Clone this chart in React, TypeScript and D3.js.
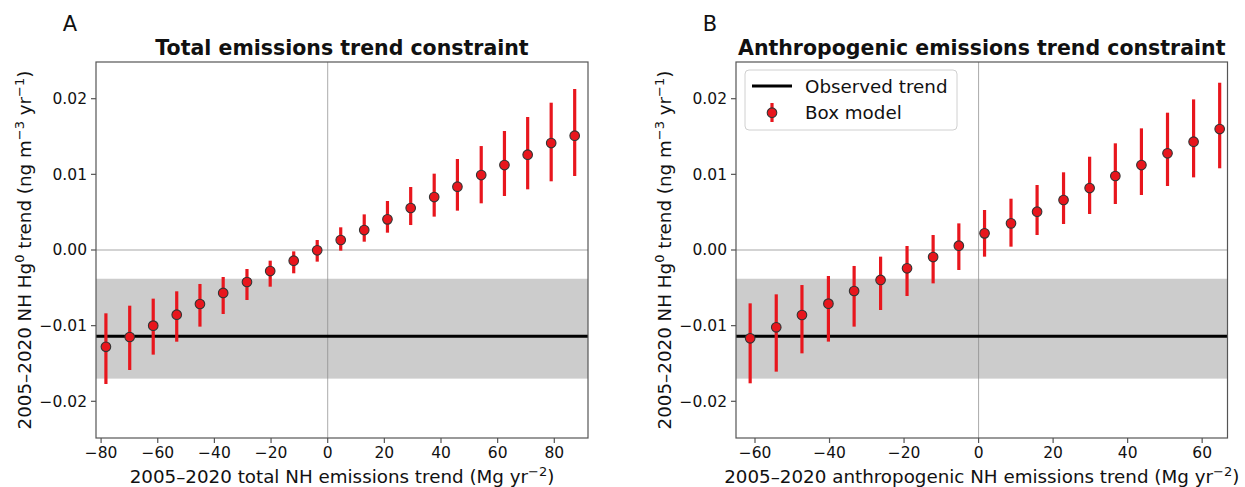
import React from "react";
import * as d3 from "d3";

// 패널 A: 전체 배출량 추세
const totalX = [-78.3, -69.9, -61.6, -53.3, -45.1, -36.9, -28.5, -20.3, -12.0, -3.7, 4.6, 12.9, 21.1, 29.3, 37.6, 45.8, 54.2, 62.4, 70.6, 78.9, 87.2];
const totalY = [-0.0128, -0.0115, -0.01, -0.00855, -0.00714, -0.00568, -0.00423, -0.00278, -0.00141, -0.00004, 0.00132, 0.00264, 0.00405, 0.00555, 0.007, 0.00837, 0.00991, 0.01123, 0.0126, 0.01414, 0.01511];
const totalHi = [-0.00837, -0.00736, -0.00643, -0.00546, -0.00449, -0.00357, -0.00251, -0.00141, -0.00018, 0.00132, 0.003, 0.00471, 0.00648, 0.00833, 0.01009, 0.01203, 0.01374, 0.01573, 0.01758, 0.01947, 0.02128];
const totalLo = [-0.01771, -0.01586, -0.01383, -0.01212, -0.01013, -0.00846, -0.00661, -0.00485, -0.00308, -0.00154, -0.00009, 0.0011, 0.00229, 0.0033, 0.00441, 0.0052, 0.00617, 0.00714, 0.00802, 0.00908, 0.00978];

// 패널 B: 인위적 배출량 추세
const anthroX = [-61.3, -54.3, -47.4, -40.3, -33.4, -26.3, -19.2, -12.2, -5.3, 1.6, 8.7, 15.7, 22.8, 29.8, 36.7, 43.7, 50.7, 57.7, 64.7];
const anthroY = [-0.01167, -0.01022, -0.00859, -0.00709, -0.00542, -0.00396, -0.00242, -0.00093, 0.00057, 0.0022, 0.00352, 0.00506, 0.00661, 0.00819, 0.00978, 0.01123, 0.01278, 0.01432, 0.01599];
const anthroHi = [-0.00705, -0.00586, -0.00463, -0.00344, -0.00211, -0.00088, 0.00053, 0.00198, 0.00352, 0.00529, 0.00678, 0.00859, 0.01027, 0.01233, 0.0141, 0.01608, 0.01815, 0.01991, 0.02211];
const anthroLo = [-0.01762, -0.01608, -0.01366, -0.01211, -0.01013, -0.00793, -0.00608, -0.00441, -0.00264, -0.00088, 0.00044, 0.00198, 0.00344, 0.00476, 0.00608, 0.00727, 0.00846, 0.0096, 0.0108];

// 관측 추세 + 불확실성 범위
const observedTrend = -0.0114;
const observedBand = [-0.017, -0.0038];

const yTicks = [-0.02, -0.01, 0, 0.01, 0.02];
const totalTicks = [-80, -60, -40, -20, 0, 20, 40, 60, 80];
const anthroTicks = [-60, -40, -20, 0, 20, 40, 60];

const FONT = "DejaVu Sans";
const RED = "#e8161d";
const TOP = 62;
const BOTTOM = 438;

interface PanelProps {
  letter: string;
  title: string;
  xLabel: string;
  left: number;
  right: number;
  xDomain: [number, number];
  xTicks: number[];
  xs: number[];
  ys: number[];
  lo: number[];
  hi: number[];
  legend?: boolean;
}

const fmt = d3.format(".2f");

const Panel = ({ letter, title, xLabel, left, right, xDomain, xTicks, xs, ys, lo, hi, legend }: PanelProps) => {
  const x = d3.scaleLinear().domain(xDomain).range([left, right]);
  const y = d3.scaleLinear().domain([-0.02485, 0.02485]).range([BOTTOM, TOP]);
  const midY = (TOP + BOTTOM) / 2;

  return (
    <g fontFamily={FONT} fill="#111">
      {/* 불확실성 범위 */}
      <rect x={left} y={y(observedBand[1])} width={right - left} height={y(observedBand[0]) - y(observedBand[1])} fill="#cccccc" />
      {/* 0 기준선 */}
      <line x1={left} x2={right} y1={y(0)} y2={y(0)} stroke="#c4c4c4" strokeWidth={1.3} />
      <line x1={x(0)} x2={x(0)} y1={TOP} y2={BOTTOM} stroke="#888" strokeOpacity={0.7} strokeWidth={1} />
      {/* 관측 추세선 */}
      <line x1={left} x2={right} y1={y(observedTrend)} y2={y(observedTrend)} stroke="#000" strokeWidth={3} />

      {/* 에러바 */}
      {xs.map((d, i) => (
        <line key={"e" + i} x1={x(d)} x2={x(d)} y1={y(lo[i])} y2={y(hi[i])} stroke={RED} strokeWidth={3.2} />
      ))}
      {xs.map((d, i) => (
        <circle key={"c" + i} cx={x(d)} cy={y(ys[i])} r={4.8} fill={RED} stroke="#333" strokeWidth={1.1} />
      ))}

      {/* 축 테두리 */}
      <rect x={left} y={TOP} width={right - left} height={BOTTOM - TOP} fill="none" stroke="#555" strokeWidth={1.2} />

      {/* y 눈금 */}
      {yTicks.map((t) => (
        <g key={"y" + t} transform={`translate(${left},${y(t)})`}>
          <line x1={-5} x2={0} stroke="#555" strokeWidth={1.2} />
          <text x={-9} dy="0.35em" textAnchor="end" fontSize={15.5}>{fmt(t)}</text>
        </g>
      ))}
      {/* x 눈금 */}
      {xTicks.map((t) => (
        <g key={"x" + t} transform={`translate(${x(t)},${BOTTOM})`}>
          <line y1={0} y2={5} stroke="#555" strokeWidth={1.2} />
          <text y={8} dy="0.76em" textAnchor="middle" fontSize={15.5}>{d3.format("d")(t)}</text>
        </g>
      ))}

      {/* x 축 라벨 */}
      <text x={(left + right) / 2} y={483} textAnchor="middle" fontSize={18.3}>
        {xLabel} (Mg yr<tspan dy={-7} fontSize={13}>−2</tspan><tspan dy={7}>)</tspan>
      </text>

      {/* y 축 라벨 */}
      <text transform={`translate(${left - 65},${midY}) rotate(-90)`} textAnchor="middle" fontSize={18.3}>
        2005–2020 NH Hg<tspan dy={-7} fontSize={13}>0</tspan>
        <tspan dy={7}> trend (ng m</tspan><tspan dy={-7} fontSize={13}>−3</tspan>
        <tspan dy={7}> yr</tspan><tspan dy={-7} fontSize={13}>−1</tspan><tspan dy={7}>)</tspan>
      </text>

      {/* 제목 */}
      <text x={(left + right) / 2} y={55} textAnchor="middle" fontSize={20.5} fontWeight="bold">{title}</text>
      <text x={left - 26} y={24} dy="0.35em" textAnchor="middle" fontSize={21}>{letter}</text>

      {legend && (
        <g>
          <rect x={left + 9} y={70} width={212} height={60} rx={4} fill="#fff" fillOpacity={0.85} stroke="#d0d0d0" strokeWidth={1} />
          <line x1={left + 16} x2={left + 56} y1={86} y2={86} stroke="#000" strokeWidth={3} />
          <text x={left + 69} y={92.7} fontSize={18.3}>Observed trend</text>
          <line x1={left + 36} x2={left + 36} y1={103} y2={122} stroke={RED} strokeWidth={3.2} />
          <circle cx={left + 36} cy={112.7} r={4.8} fill={RED} stroke="#333" strokeWidth={1.1} />
          <text x={left + 69} y={119.3} fontSize={18.3}>Box model</text>
        </g>
      )}
    </g>
  );
};

const App = () => {
  return (
    <svg width={1245} height={487} style={{ position: "absolute", left: 0, top: 0, background: "#fff" }}>
      <Panel
        letter="A"
        title="Total emissions trend constraint"
        xLabel="2005–2020 total NH emissions trend"
        left={96}
        right={588}
        xDomain={[-81.8, 91.9]}
        xTicks={totalTicks}
        xs={totalX}
        ys={totalY}
        lo={totalLo}
        hi={totalHi}
      />
      <Panel
        letter="B"
        title="Anthropogenic emissions trend constraint"
        xLabel="2005–2020 anthropogenic NH emissions trend"
        left={736}
        right={1227.5}
        xDomain={[-65.1, 66.8]}
        xTicks={anthroTicks}
        xs={anthroX}
        ys={anthroY}
        lo={anthroLo}
        hi={anthroHi}
        legend
      />
    </svg>
  );
};

export default App;
